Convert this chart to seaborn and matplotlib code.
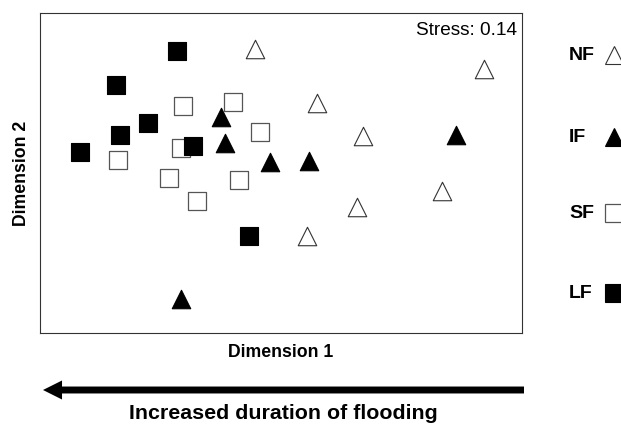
import matplotlib
matplotlib.use("Agg")
import matplotlib.pyplot as plt
from matplotlib.lines import Line2D
from matplotlib.patches import FancyArrowPatch
import numpy as np
import pandas as pd
import seaborn as sns

# NMDS site scores per flooding class
groups = ["NF", "IF", "SF", "LF"]
nf_x = [-0.13, 0.18, 1.01, 0.41, 0.80, 0.38, 0.13]
nf_y = [0.62, 0.35, 0.52, 0.185, -0.09, -0.17, -0.315]
if_x = [-0.30, -0.28, -0.055, 0.14, 0.87, -0.50]
if_y = [0.28, 0.15, 0.055, 0.06, 0.19, -0.63]
sf_x = [-0.49, -0.24, -0.105, -0.50, -0.81, -0.56, -0.21, -0.42]
sf_y = [0.335, 0.355, 0.205, 0.125, 0.065, -0.025, -0.035, -0.14]
lf_x = [-0.52, -0.82, -0.66, -0.80, -1.00, -0.44, -0.16]
lf_y = [0.61, 0.44, 0.25, 0.19, 0.105, 0.135, -0.315]
stress = 0.14

coords = {"NF": (nf_x, nf_y), "IF": (if_x, if_y),
          "SF": (sf_x, sf_y), "LF": (lf_x, lf_y)}
df = pd.concat(
    [pd.DataFrame({"NMDS1": x, "NMDS2": y, "group": g}) for g, (x, y) in coords.items()],
    ignore_index=True,
)

styles = {
    "NF": dict(marker="^", facecolor="white", edgecolor="#333333", linewidth=0.8),
    "IF": dict(marker="^", facecolor="black", edgecolor="black", linewidth=0.8),
    "SF": dict(marker="s", facecolor="white", edgecolor="#555555", linewidth=0.9),
    "LF": dict(marker="s", facecolor="black", edgecolor="black", linewidth=0.8),
}
msize = 13.3

sns.set_style("white")
plt.rcParams["font.family"] = ["Liberation Sans", "DejaVu Sans"]
plt.rcParams["text.color"] = "black"
plt.rcParams["axes.labelcolor"] = "black"

fig = plt.figure(figsize=(6.21, 4.26), dpi=100)
W, H = 621, 426
ax = fig.add_axes([40 / W, 1 - 333 / H, 482 / W, 320 / H])

for g in groups:
    st = styles[g]
    sub = df[df["group"] == g]
    sns.scatterplot(data=sub, x="NMDS1", y="NMDS2", ax=ax, marker=st["marker"],
                    s=msize ** 2, color=st["facecolor"], edgecolor=st["edgecolor"],
                    linewidth=st["linewidth"], legend=False, zorder=3)

ax.set_xlim(-1.2, 1.2)
ax.set_ylim(-0.8, 0.8)
ax.set_xticks([])
ax.set_yticks([])
for sp in ax.spines.values():
    sp.set_color("#333333")
    sp.set_linewidth(0.8)
ax.set_xlabel("Dimension 1", fontsize=12.7, fontweight="bold", labelpad=8)
ax.set_ylabel("Dimension 2", fontsize=12.7, fontweight="bold", labelpad=7)
ax.text(0.99, 0.972, f"Stress: {stress:.2f}", transform=ax.transAxes,
        ha="right", va="top", fontsize=13.7)

# Legend: bold label followed by its marker, cut at the right edge
leg_y = [55, 137, 213, 293]
for g, yp in zip(groups, leg_y):
    st = styles[g]
    fig.text(569 / W, 1 - yp / H, g, fontsize=14, fontweight="bold",
             ha="left", va="center")
    fig.add_artist(Line2D([614 / W], [1 - yp / H], transform=fig.transFigure,
                          marker=st["marker"], markersize=msize, linestyle="none",
                          markerfacecolor=st["facecolor"],
                          markeredgecolor=st["edgecolor"],
                          markeredgewidth=st["linewidth"], clip_on=False))

# Gradient arrow below the plot
arrow = FancyArrowPatch((524 / W, 1 - 390 / H), (43 / W, 1 - 390 / H),
                        transform=fig.transFigure,
                        arrowstyle="simple,head_length=13.7,head_width=13.7,tail_width=5",
                        mutation_scale=1, shrinkA=0, shrinkB=0,
                        color="black", linewidth=0)
fig.add_artist(arrow)
fig.text(283 / W, 1 - 419 / H, "Increased duration of flooding", fontsize=15.4,
         fontweight="bold", ha="center", va="baseline")

fig.savefig("out.png", dpi=100)
